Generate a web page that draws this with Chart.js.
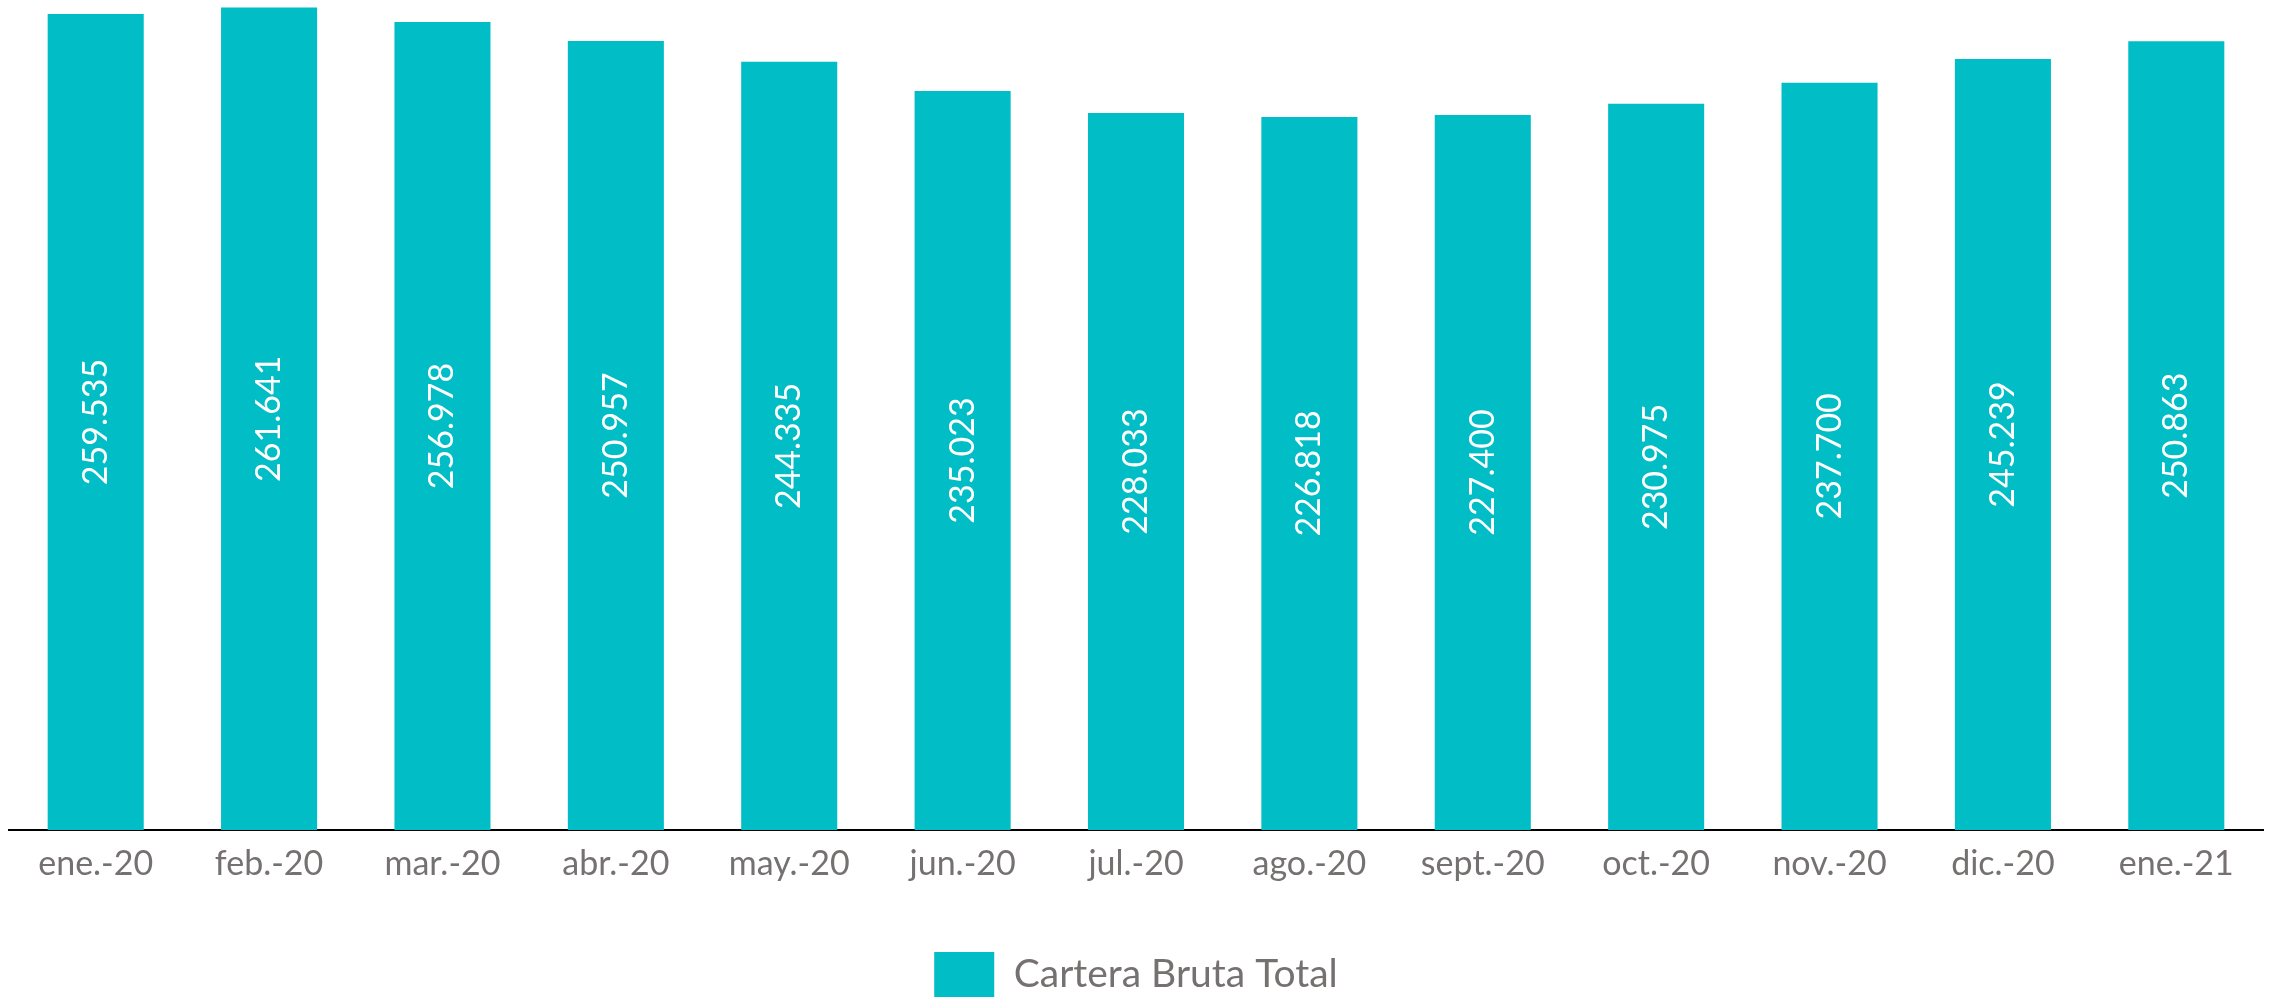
<!DOCTYPE html>
<html>
<head>
<meta charset="utf-8">
<script src="https://cdn.jsdelivr.net/npm/chart.js@4/dist/chart.umd.min.js"></script>
<style>
html,body{margin:0;padding:0;background:#fff;}
#wrap{width:2272px;height:997px;position:relative;}
</style>
</head>
<body>
<div id="wrap"><canvas id="c" width="2272" height="997"></canvas></div>
<script>
const categories = ["ene.-20","feb.-20","mar.-20","abr.-20","may.-20","jun.-20","jul.-20","ago.-20","sept.-20","oct.-20","nov.-20","dic.-20","ene.-21"];
const carteraBrutaTotal = [259.535,261.641,256.978,250.957,244.335,235.023,228.033,226.818,227.400,230.975,237.700,245.239,250.863];
const seriesName = "Cartera Bruta Total";

const barColor = "#00BDC6";
const textGray = "#767171";
const fontFamily = "Lato, 'Open Sans', sans-serif";

function fmt(v){
  return v.toFixed(3);
}

const labelPlugin = {
  id: 'barLabels',
  afterDatasetsDraw(chart){
    const ctx = chart.ctx;
    const meta = chart.getDatasetMeta(0);
    ctx.save();
    ctx.fillStyle = '#ffffff';
    ctx.font = "34px " + fontFamily;
    ctx.textAlign = 'center';
    ctx.textBaseline = 'middle';
    meta.data.forEach((bar, i) => {
      const v = chart.data.datasets[0].data[i];
      const cy = (bar.y + bar.base) / 2;
      ctx.save();
      ctx.translate(bar.x, cy);
      ctx.rotate(-Math.PI/2);
      ctx.fillText(fmt(v), 0, 0);
      ctx.restore();
    });
    ctx.restore();
  }
};

new Chart(document.getElementById('c'), {
  type: 'bar',
  data: {
    labels: categories,
    datasets: [{
      label: seriesName,
      data: carteraBrutaTotal,
      backgroundColor: barColor,
      borderWidth: 0,
      categoryPercentage: 0.554,
      barPercentage: 1.0
    }]
  },
  options: {
    responsive: false,
    animation: false,
    layout: { padding: { left: 9, right: 9, top: 0, bottom: -10 } },
    plugins: {
      legend: {
        position: 'bottom',
        labels: {
          color: textGray,
          font: { family: fontFamily, size: 39 },
          boxWidth: 60,
          boxHeight: 45,
          padding: 62
        }
      },
      tooltip: { enabled: false }
    },
    scales: {
      x: {
        grid: { display: false },
        border: { display: true, color: '#000000', width: 2 },
        ticks: { color: textGray, font: { family: fontFamily, size: 34 }, padding: 5.6, maxRotation: 0 }
      },
      y: {
        display: false,
        min: 0,
        max: 264
      }
    }
  },
  plugins: [labelPlugin]
});
</script>
</body>
</html>
